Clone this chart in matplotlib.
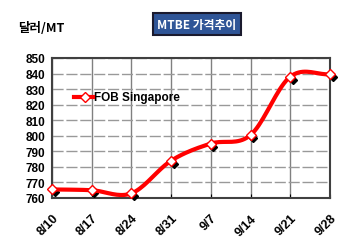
import numpy as np
import matplotlib
matplotlib.use('agg')
from matplotlib import pyplot as plt
from matplotlib.transforms import offset_copy

plt.rcParams['font.family'] = ['Liberation Sans', 'Noto Sans CJK KR', 'DejaVu Sans']

dates = ['8/10', '8/17', '8/24', '8/31', '9/7', '9/14', '9/21', '9/28']
fob_singapore = [765.5, 765, 763, 784, 795, 800.5, 838, 839.5]
y_ticks = [760, 770, 780, 790, 800, 810, 820, 830, 840, 850]


def smooth(xs, ys, n=20):
    # catmull-rom curve through the points, like Excel's smoothed line
    xs = np.asarray(xs, float)
    ys = np.asarray(ys, float)
    px = np.concatenate([[2 * xs[0] - xs[1]], xs, [2 * xs[-1] - xs[-2]]])
    py = np.concatenate([[2 * ys[0] - ys[1]], ys, [2 * ys[-1] - ys[-2]]])
    out_x, out_y = [], []
    t = np.linspace(0, 1, n)
    for i in range(1, len(px) - 2):
        for p, out in ((px, out_x), (py, out_y)):
            p0, p1, p2, p3 = p[i - 1], p[i], p[i + 1], p[i + 2]
            out.extend(0.5 * (2 * p1 + (-p0 + p2) * t
                              + (2 * p0 - 5 * p1 + 4 * p2 - p3) * t ** 2
                              + (-p0 + 3 * p1 - 3 * p2 + p3) * t ** 3))
    return out_x, out_y


fig = plt.figure(figsize=(3.5, 2.53), dpi=100)
ax = fig.add_axes([52 / 350, 1 - 199 / 253, 278 / 350, 140 / 253])

x = np.arange(len(dates))
sx, sy = smooth(x, fob_singapore)

# marker shadows, down-right of each diamond
shadow = offset_copy(ax.transData, fig=fig, x=2.5, y=-3, units='dots')
ax.plot(x, fob_singapore, ls='none', marker='D', ms=4.5, color='black',
        transform=shadow, zorder=3, clip_on=False)
ax.plot(sx, sy, color='#ff0000', lw=3, zorder=4, solid_capstyle='round')
ax.plot(x, fob_singapore, ls='none', marker='D', ms=5.5, mfc='white',
        mec='#ff0000', mew=1, zorder=5, clip_on=False)

ax.set_xlim(0, len(dates) - 1)
ax.set_ylim(760, 850)
ax.set_yticks(y_ticks)
ax.set_xticks(x)
ax.set_xticklabels(dates, rotation=45, ha='right', va='top', rotation_mode='anchor')
for lab in ax.get_xticklabels():
    lab.set_fontweight('bold')
    lab.set_fontsize(9)
for lab in ax.get_yticklabels():
    lab.set_fontweight('bold')
    lab.set_fontsize(8.5)
ax.tick_params(axis='x', direction='in', length=3, pad=10)
ax.tick_params(axis='y', length=0, pad=5)
ax.grid(axis='x', color='#808080', lw=1)
ax.grid(axis='y', color='#999999', lw=1, ls=(0, (8, 2)))
for s in ax.spines.values():
    s.set_color('#404040')
    s.set_linewidth(1.5)

# legend
ax.plot([0.55, 1.03], [825, 825], color='#ff0000', lw=3, zorder=4)
ax.plot([0.83], [825], marker='D', ms=5, mfc='white', mec='#ff0000', zorder=5)
ax.text(1.07, 825, 'FOB Singapore', fontsize=8.5, fontweight='bold', va='center')

fig.text(18 / 350, 1 - 28 / 253, '달러/MT', fontsize=9, fontweight='bold',
         va='center', family=['Noto Sans CJK KR', 'DejaVu Sans'])
fig.text(197 / 350, 1 - 25 / 253, 'MTBE 가격추이', fontsize=8.5, fontweight='bold',
         color='white', ha='center', va='center',
         family=['Noto Sans CJK KR', 'DejaVu Sans'],
         bbox=dict(boxstyle='square,pad=0.35', fc='#2f5597', ec='#1a1a2e', lw=1.5))

fig.savefig('out.png', dpi=100)
